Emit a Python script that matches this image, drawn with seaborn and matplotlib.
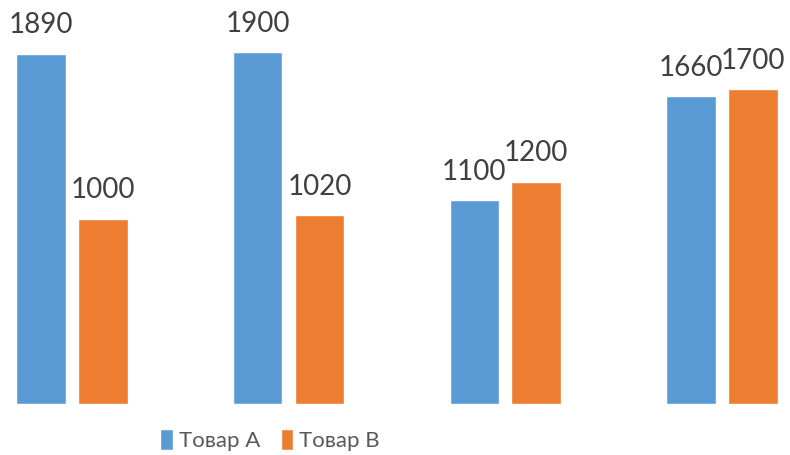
import pandas as pd
import matplotlib
matplotlib.use('Agg')
import matplotlib.pyplot as plt
import seaborn as sns

# Data
groups = ['1', '2', '3', '4']
tovar_a = [1890, 1900, 1100, 1660]
tovar_b = [1000, 1020, 1200, 1700]
series_names = ['Товар A', 'Товар B']

df = pd.DataFrame({
    'group': groups * 2,
    'value': tovar_a + tovar_b,
    'series': [series_names[0]] * len(groups) + [series_names[1]] * len(groups),
})

sns.set_style('white')
plt.rcParams['font.family'] = ['Lato', 'DejaVu Sans']

fig = plt.figure(figsize=(7.9, 4.55), dpi=100)
ax = fig.add_axes([0, 51 / 455, 1, 404 / 455])

palette = {'Товар A': '#5B9BD5', 'Товар B': '#ED7D31'}
sns.barplot(data=df, x='group', y='value', hue='series', palette=palette,
            width=0.572, gap=0.2, saturation=1, ax=ax, legend=True)

for container in ax.containers:
    ax.bar_label(container, fmt='%d', padding=11, fontsize=20, color='#404040')

ax.set_xlim(-0.332, 3.314)
ax.set_ylim(0, 2180)
ax.set_axis_off()

handles, labels = ax.get_legend_handles_labels()
ax.get_legend().remove()
fig.legend(handles, labels, loc='center', bbox_to_anchor=(0.342, 0.032),
           ncol=2, frameon=False, labelcolor='#595959',
           prop={'family': 'Lato', 'size': 16},
           handlelength=0.55, handleheight=1.05, handletextpad=0.3,
           columnspacing=0.9)

fig.savefig('out.png', dpi=100)
plt.close(fig)
